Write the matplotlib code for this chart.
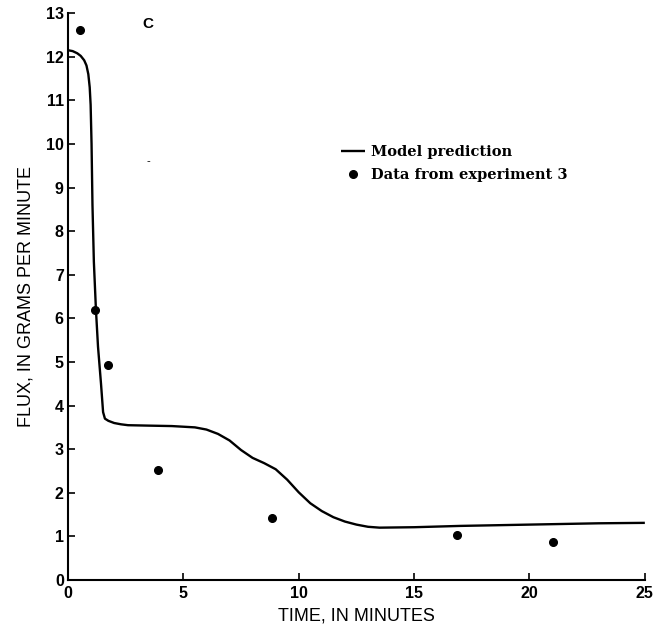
import matplotlib

matplotlib.use("Agg")
import matplotlib.pyplot as plt

plt.rcParams["font.family"] = ["Liberation Sans", "DejaVu Sans"]

# model prediction curve
model_time = [0, 0.2, 0.4, 0.55, 0.7, 0.8, 0.88, 0.94, 0.98, 1.02,
              1.06, 1.12, 1.21, 1.3, 1.43, 1.52, 1.6, 1.75, 2.0, 2.3,
              2.6, 3.5, 4.5, 5.5, 6.0, 6.5, 7.0, 7.5, 8.0, 8.5,
              9.0, 9.5, 10.0, 10.5, 11.0, 11.5, 12.0, 12.5, 13.0, 13.5,
              15, 17, 19, 21, 23, 25]
model_flux = [12.15, 12.13, 12.08, 12.02, 11.92, 11.8, 11.6, 11.3, 10.9, 10.0,
              8.6, 7.3, 6.2, 5.35, 4.5, 3.85, 3.7, 3.65, 3.6, 3.57,
              3.55, 3.54, 3.53, 3.5, 3.45, 3.35, 3.2, 2.98, 2.8, 2.68,
              2.54, 2.3, 2.01, 1.76, 1.58, 1.44, 1.34, 1.27, 1.22, 1.2,
              1.21, 1.24, 1.26, 1.28, 1.3, 1.31]

# experiment 3 data
exp_time = [0.52, 1.17, 1.73, 3.9, 8.85, 16.85, 21.0]
exp_flux = [12.61, 6.19, 4.93, 2.52, 1.42, 1.03, 0.87]

x_ticks = [0, 5, 10, 15, 20, 25]
y_ticks = list(range(0, 14))

fig = plt.figure(figsize=(6.54, 6.27), dpi=100)
ax = fig.add_axes([0.104, 0.075, 0.882, 0.904])

ax.plot(model_time, model_flux, color="black", lw=1.7, label="Model prediction",
        solid_capstyle="butt", solid_joinstyle="round")
ax.plot(exp_time, exp_flux, "o", color="black", ms=5.5, label="Data from experiment 3",
        clip_on=False)

ax.set_xlim(0, 25)
ax.set_ylim(0, 13)
ax.set_xticks(x_ticks)
ax.set_yticks(y_ticks)
for s in ("top", "right"):
    ax.spines[s].set_visible(False)
for s in ("left", "bottom"):
    ax.spines[s].set_linewidth(1.5)
ax.tick_params(direction="in", length=5, width=1.2, labelsize=11.5, pad=3)
ax.tick_params(axis="x", pad=4)
for lab in ax.get_xticklabels() + ax.get_yticklabels():
    lab.set_fontweight("bold")

ax.set_xlabel("TIME, IN MINUTES", fontsize=13, labelpad=5)
ax.set_ylabel("FLUX, IN GRAMS PER MINUTE", fontsize=13, labelpad=8)

ax.text(3.47, 12.75, "C", fontsize=11, fontweight="bold", ha="center", va="center")
ax.text(3.47, 9.6, "-", fontsize=8, ha="center", va="center")

ax.legend(loc="upper left", bbox_to_anchor=(0.46, 0.78), frameon=False,
          prop={"family": "DejaVu Serif", "size": 10.5, "weight": "bold"},
          handlelength=1.7, handletextpad=0.4, labelspacing=0.62, borderpad=0)

fig.savefig("out.png", dpi=100, facecolor="white")
